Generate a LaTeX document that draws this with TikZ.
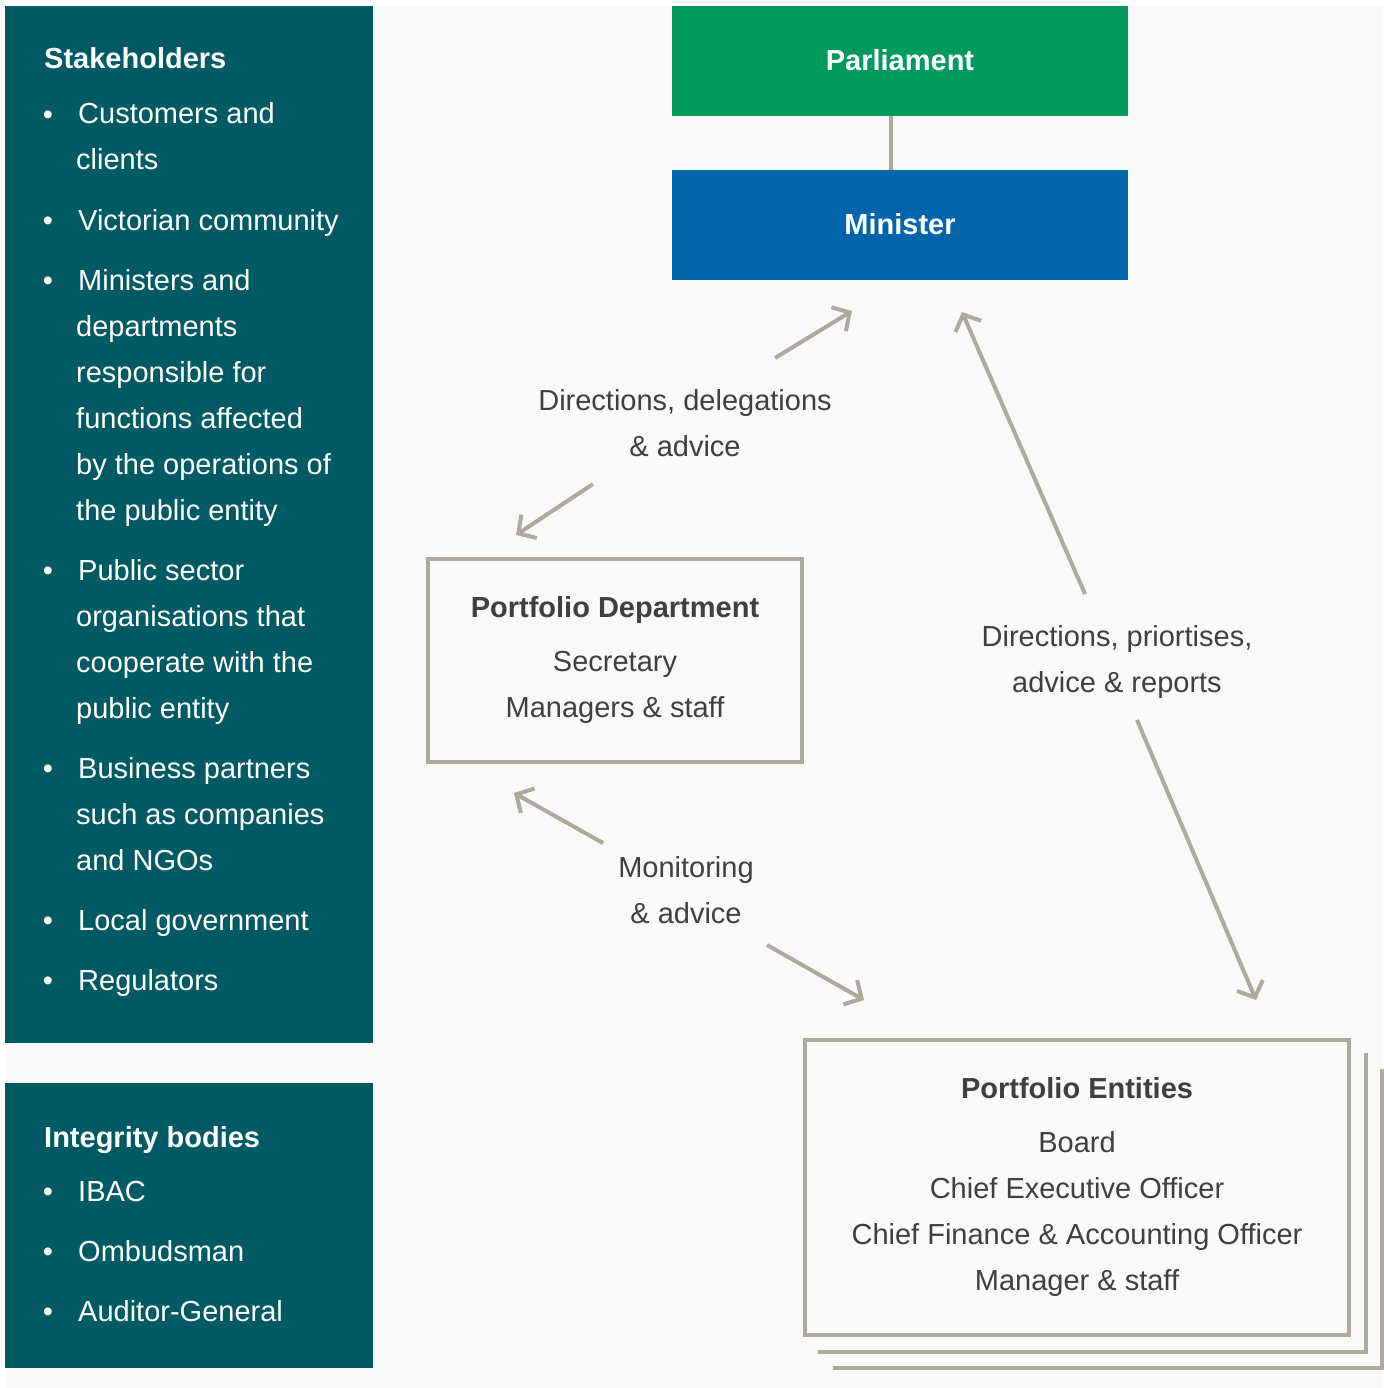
\documentclass[tikz,border=0pt]{standalone}
\usepackage{fontspec}
\setmainfont{Liberation Sans}
\usetikzlibrary{arrows.meta}

\definecolor{panelteal}{HTML}{005A64}
\definecolor{parlgreen}{HTML}{009A5E}
\definecolor{minblue}{HTML}{0065AA}
\definecolor{linegray}{HTML}{ADA99F}
\definecolor{textgray}{HTML}{3F3F3F}
\definecolor{backgray}{HTML}{F9F9F9}
\newcommand{\boxfont}{\fontsize{29}{46}\selectfont}

\begin{document}
\begin{tikzpicture}[x=1pt, y=-1pt, every node/.style={font=\boxfont},
	item/.style={anchor=base west, inner sep=0, text=white},
	topbox/.style={minimum width=456pt, minimum height=110pt, text=white, font=\boxfont\bfseries},
	orgbox/.style={draw=linegray, line width=4pt, text=textgray, align=center},
	conn/.style={draw=linegray, line width=4pt, -{Straight Barb[length=13pt, width=28pt]}}]
		\useasboundingbox (0,0) rectangle (1383,1388);
		\fill[backgray] (5,6) rectangle (1383,1388);
		\fill[panelteal] (5,6) rectangle (373,1043);
		\fill[panelteal] (5,1083) rectangle (373,1368);

		\node[item, font=\boxfont\bfseries] (stk) at (44,69) {Stakeholders};
		\foreach \y in {118,224,284,574,772,924,984,1195,1255,1315}
			\node[text=white] at (48,\y) {\textbullet};
		\foreach \x/\y/\t in {78/124/Customers and, 76/170/clients, 78/230/Victorian community,
				78/290/Ministers and, 76/336/departments, 76/382/responsible for, 76/428/functions affected,
				76/474/by the operations of, 76/520/the public entity, 78/580/Public sector,
				76/626/organisations that, 76/672/cooperate with the, 76/718/public entity,
				78/778/Business partners, 76/824/such as companies, 76/870/and NGOs,
				78/930/Local government, 78/990/Regulators}
			\node[item] at (\x,\y) {\t};

		\node[item, font=\boxfont\bfseries] (ibs) at (44,1147) {Integrity bodies};
		\foreach \y/\t in {1201/IBAC, 1261/Ombudsman, 1321/Auditor-General}
			\node[item] at (78,\y) {\t};

		\node[topbox, fill=parlgreen, text depth=2pt] (parl) at (900,61) {Parliament};
		\node[topbox, fill=minblue, text depth=2pt] (min) at (900,225) {Minister};
		\draw[linegray, line width=4pt] ([xshift=-9pt]parl.south) -- ([xshift=-9pt]min.north);

		\node[orgbox, minimum width=374pt, minimum height=203pt] (dept) at (615,660) {{\bfseries Portfolio Department}\\[8pt] Secretary\\ Managers \& staff};
		\node[orgbox, minimum width=544pt, minimum height=295pt] (ent) at (1077,1187) {{\bfseries Portfolio Entities}\\[8pt] Board\\ Chief Executive Officer\\ Chief Finance \& Accounting Officer\\ Manager \& staff};
		\draw[linegray, line width=4pt] ([shift={(15,15)}]ent.south west) -| ([shift={(15,15)}]ent.north east);
		\draw[linegray, line width=4pt] ([shift={(30,31)}]ent.south west) -| ([shift={(31,31)}]ent.north east);

		\node[text=textgray, align=center] (lbl1) at (685,423) {Directions, delegations\\\& advice};
		\node[text=textgray, align=center] (lbl2) at (1117,662) {Directions, priortises,\\advice \& reports};
		\node[text=textgray, align=center] (lbl3) at (686,890) {Monitoring\\\& advice};

		\coordinate (a1) at (775,358); \coordinate (a2) at (852,311);
		\coordinate (a3) at (593,484); \coordinate (a4) at (516,535);
		\coordinate (b1) at (1085,594); \coordinate (b2) at (962,312);
		\coordinate (b3) at (1137,720); \coordinate (b4) at (1256,1000);
		\coordinate (c1) at (603,843); \coordinate (c2) at (514,793);
		\coordinate (c3) at (767,945); \coordinate (c4) at (864,1000);
		\draw[conn] (a1) -- (a2);
		\draw[conn] (a3) -- (a4);
		\draw[conn] (b1) -- (b2);
		\draw[conn] (b3) -- (b4);
		\draw[conn] (c1) -- (c2);
		\draw[conn] (c3) -- (c4);
	\end{tikzpicture}
\end{document}
